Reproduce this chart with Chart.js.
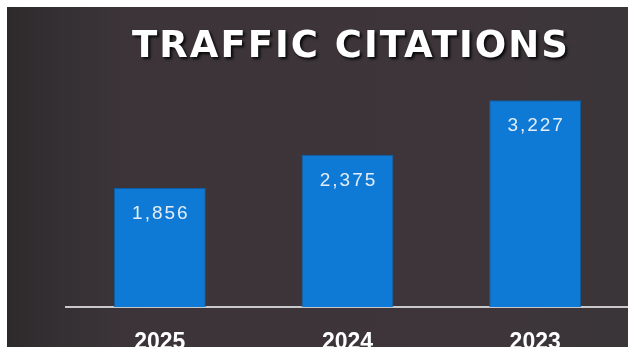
<!DOCTYPE html>
<html>
<head>
<meta charset="utf-8">
<script src="https://cdn.jsdelivr.net/npm/chart.js@4"></script>
<style>
    html, body { margin: 0; padding: 0; background: #ffffff; }
    #wrap { width: 632px; height: 349px; position: relative; }
</style>
</head>
<body>
<div id="wrap"><canvas id="citations" width="632" height="349"></canvas></div>
<script>
const YEARS = ['2025', '2024', '2023'];
const CITATIONS = [1856, 2375, 3227];
const TITLE = 'TRAFFIC CITATIONS';

const PANEL_BG = '#3c3439';
const BAR_BLUE = '#0e7ad5';

// dark panel behind the chart, with a white frame round it
const panelPlugin = {
    id: 'panel',
    beforeDraw(chart) {
        const ctx = chart.ctx;
        ctx.save();
        ctx.fillStyle = '#ffffff';
        ctx.fillRect(0, 0, chart.width, chart.height);
        const grad = ctx.createLinearGradient(7, 0, 627, 0);
        grad.addColorStop(0, '#2d2a2c');
        grad.addColorStop(0.09, '#353033');
        grad.addColorStop(0.2, '#3c3439');
        grad.addColorStop(0.8, '#3d353a');
        grad.addColorStop(1, '#3a3538');
        ctx.fillStyle = grad;
        ctx.fillRect(7, 7, 621, 340);
        ctx.restore();
    },
    afterDraw(chart) {
        // frame goes on top so the year labels are cut off at the bottom edge
        const ctx = chart.ctx;
        ctx.save();
        ctx.fillStyle = '#ffffff';
        ctx.fillRect(0, 347, chart.width, 2);
        ctx.fillRect(628, 0, 4, chart.height);
        ctx.restore();
    }
};

// spaced-out title with a dark drop shadow
const titlePlugin = {
    id: 'bigTitle',
    afterDraw(chart) {
        const ctx = chart.ctx;
        ctx.save();
        ctx.font = 'bold 37px "DejaVu Sans"';
        ctx.letterSpacing = '2px';
        ctx.textAlign = 'center';
        ctx.textBaseline = 'alphabetic';
        ctx.shadowColor = 'rgba(0,0,0,0.9)';
        ctx.shadowBlur = 3;
        ctx.shadowOffsetX = 2;
        ctx.shadowOffsetY = 2;
        ctx.fillStyle = '#ffffff';
        ctx.fillText(TITLE, 351, 57);
        ctx.restore();
    }
};

// value printed inside the top of each bar
const valueLabels = {
    id: 'valueLabels',
    afterDatasetsDraw(chart) {
        const ctx = chart.ctx;
        const meta = chart.getDatasetMeta(0);
        ctx.save();
        ctx.font = '19px "Liberation Sans"';
        ctx.letterSpacing = '2px';
        ctx.fillStyle = '#e4edf8';
        ctx.textAlign = 'center';
        ctx.textBaseline = 'middle';
        meta.data.forEach((bar, i) => {
            const v = chart.data.datasets[0].data[i];
            ctx.fillText(v.toLocaleString('en-US'), bar.x + 1, bar.y + 26);
        });
        ctx.restore();
    }
};

new Chart(document.getElementById('citations'), {
    type: 'bar',
    data: {
        labels: YEARS,
        datasets: [{
            label: 'Traffic citations',
            data: CITATIONS,
            backgroundColor: BAR_BLUE,
            borderColor: '#0b5ea6',
            borderWidth: 1,
            barPercentage: 0.49,
            categoryPercentage: 1
        }]
    },
    options: {
        responsive: false,
        animation: false,
        layout: { padding: { top: 57, left: 66, right: 3, bottom: 0 } },
        plugins: {
            legend: { display: false },
            tooltip: { enabled: false }
        },
        scales: {
            x: {
                grid: { display: false, drawTicks: false },
                border: { display: true, color: '#c9c9c9', width: 2 },
                ticks: {
                    color: '#ffffff',
                    font: { family: '"Liberation Sans"', size: 23, weight: 'bold' },
                    padding: 22
                },
                afterFit(scale) { scale.height = 42; }
            },
            y: {
                display: false,
                min: 0,
                max: 3900
            }
        }
    },
    plugins: [panelPlugin, titlePlugin, valueLabels]
});
</script>
</body>
</html>
